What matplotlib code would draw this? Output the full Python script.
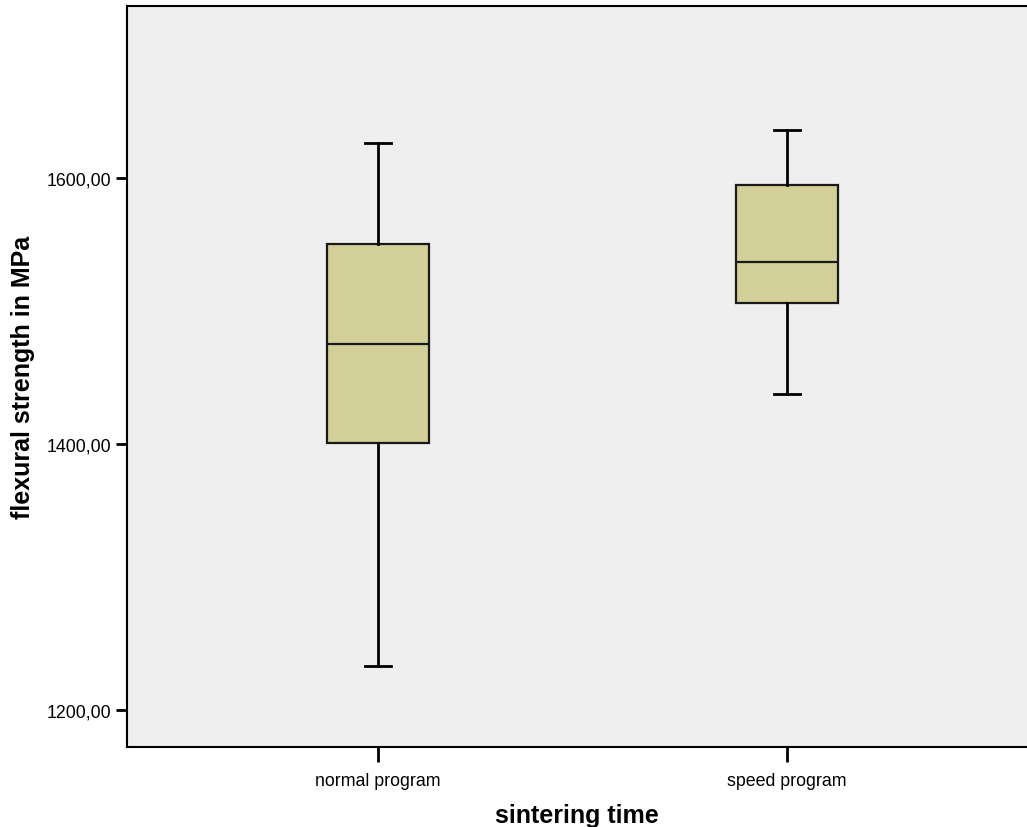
import matplotlib
matplotlib.use("Agg")
import matplotlib.pyplot as plt

# boxplot statistics (MPa)
groups = ["normal program", "speed program"]
whislo = [1233.0, 1437.5]
q1 = [1400.5, 1506.0]
med = [1475.0, 1536.5]
q3 = [1550.0, 1594.5]
whishi = [1626.0, 1636.0]

yticks = [1200, 1400, 1600]

plt.rcParams['font.family'] = ['Liberation Sans', 'DejaVu Sans']

fig = plt.figure(figsize=(10.27, 8.28), dpi=100)
W, H = 1027, 828
ax = fig.add_axes([127 / W, 1 - 748 / H, (W - 127) / W, (748 - 7) / H])
ax.set_facecolor('#efefef')

stats = []
for i, g in enumerate(groups):
    stats.append(dict(label=g, whislo=whislo[i], q1=q1[i], med=med[i],
                      q3=q3[i], whishi=whishi[i], fliers=[]))

ax.bxp(stats, positions=[1, 2], widths=0.249, capwidths=0.064,
       patch_artist=True, showfliers=False,
       boxprops=dict(facecolor='#d3cf98', edgecolor='#1a1a1a', linewidth=1.6),
       medianprops=dict(color='#1a1a1a', linewidth=1.6),
       whiskerprops=dict(color='black', linewidth=2),
       capprops=dict(color='black', linewidth=2))

ax.set_xlim(0.386, 2.587)
ax.set_ylim(1172.2, 1729.3)
ax.set_yticks(yticks)
ax.set_yticklabels([f"{v:.2f}".replace('.', ',') for v in yticks])
ax.set_xticks([1, 2])
ax.set_xticklabels(groups)

ax.spines['right'].set_visible(False)
for s in ['left', 'bottom', 'top']:
    ax.spines[s].set_linewidth(1.5)
ax.tick_params(axis='y', length=8, width=2, labelsize=12.8, pad=3)
ax.tick_params(axis='x', length=11, width=2, labelsize=12.8, pad=7)

ax.set_xlabel('sintering time', fontsize=18, fontweight='bold', labelpad=10)
ax.set_ylabel('flexural strength in MPa', fontsize=18, fontweight='bold', labelpad=9)

fig.savefig('out.png', dpi=100)
